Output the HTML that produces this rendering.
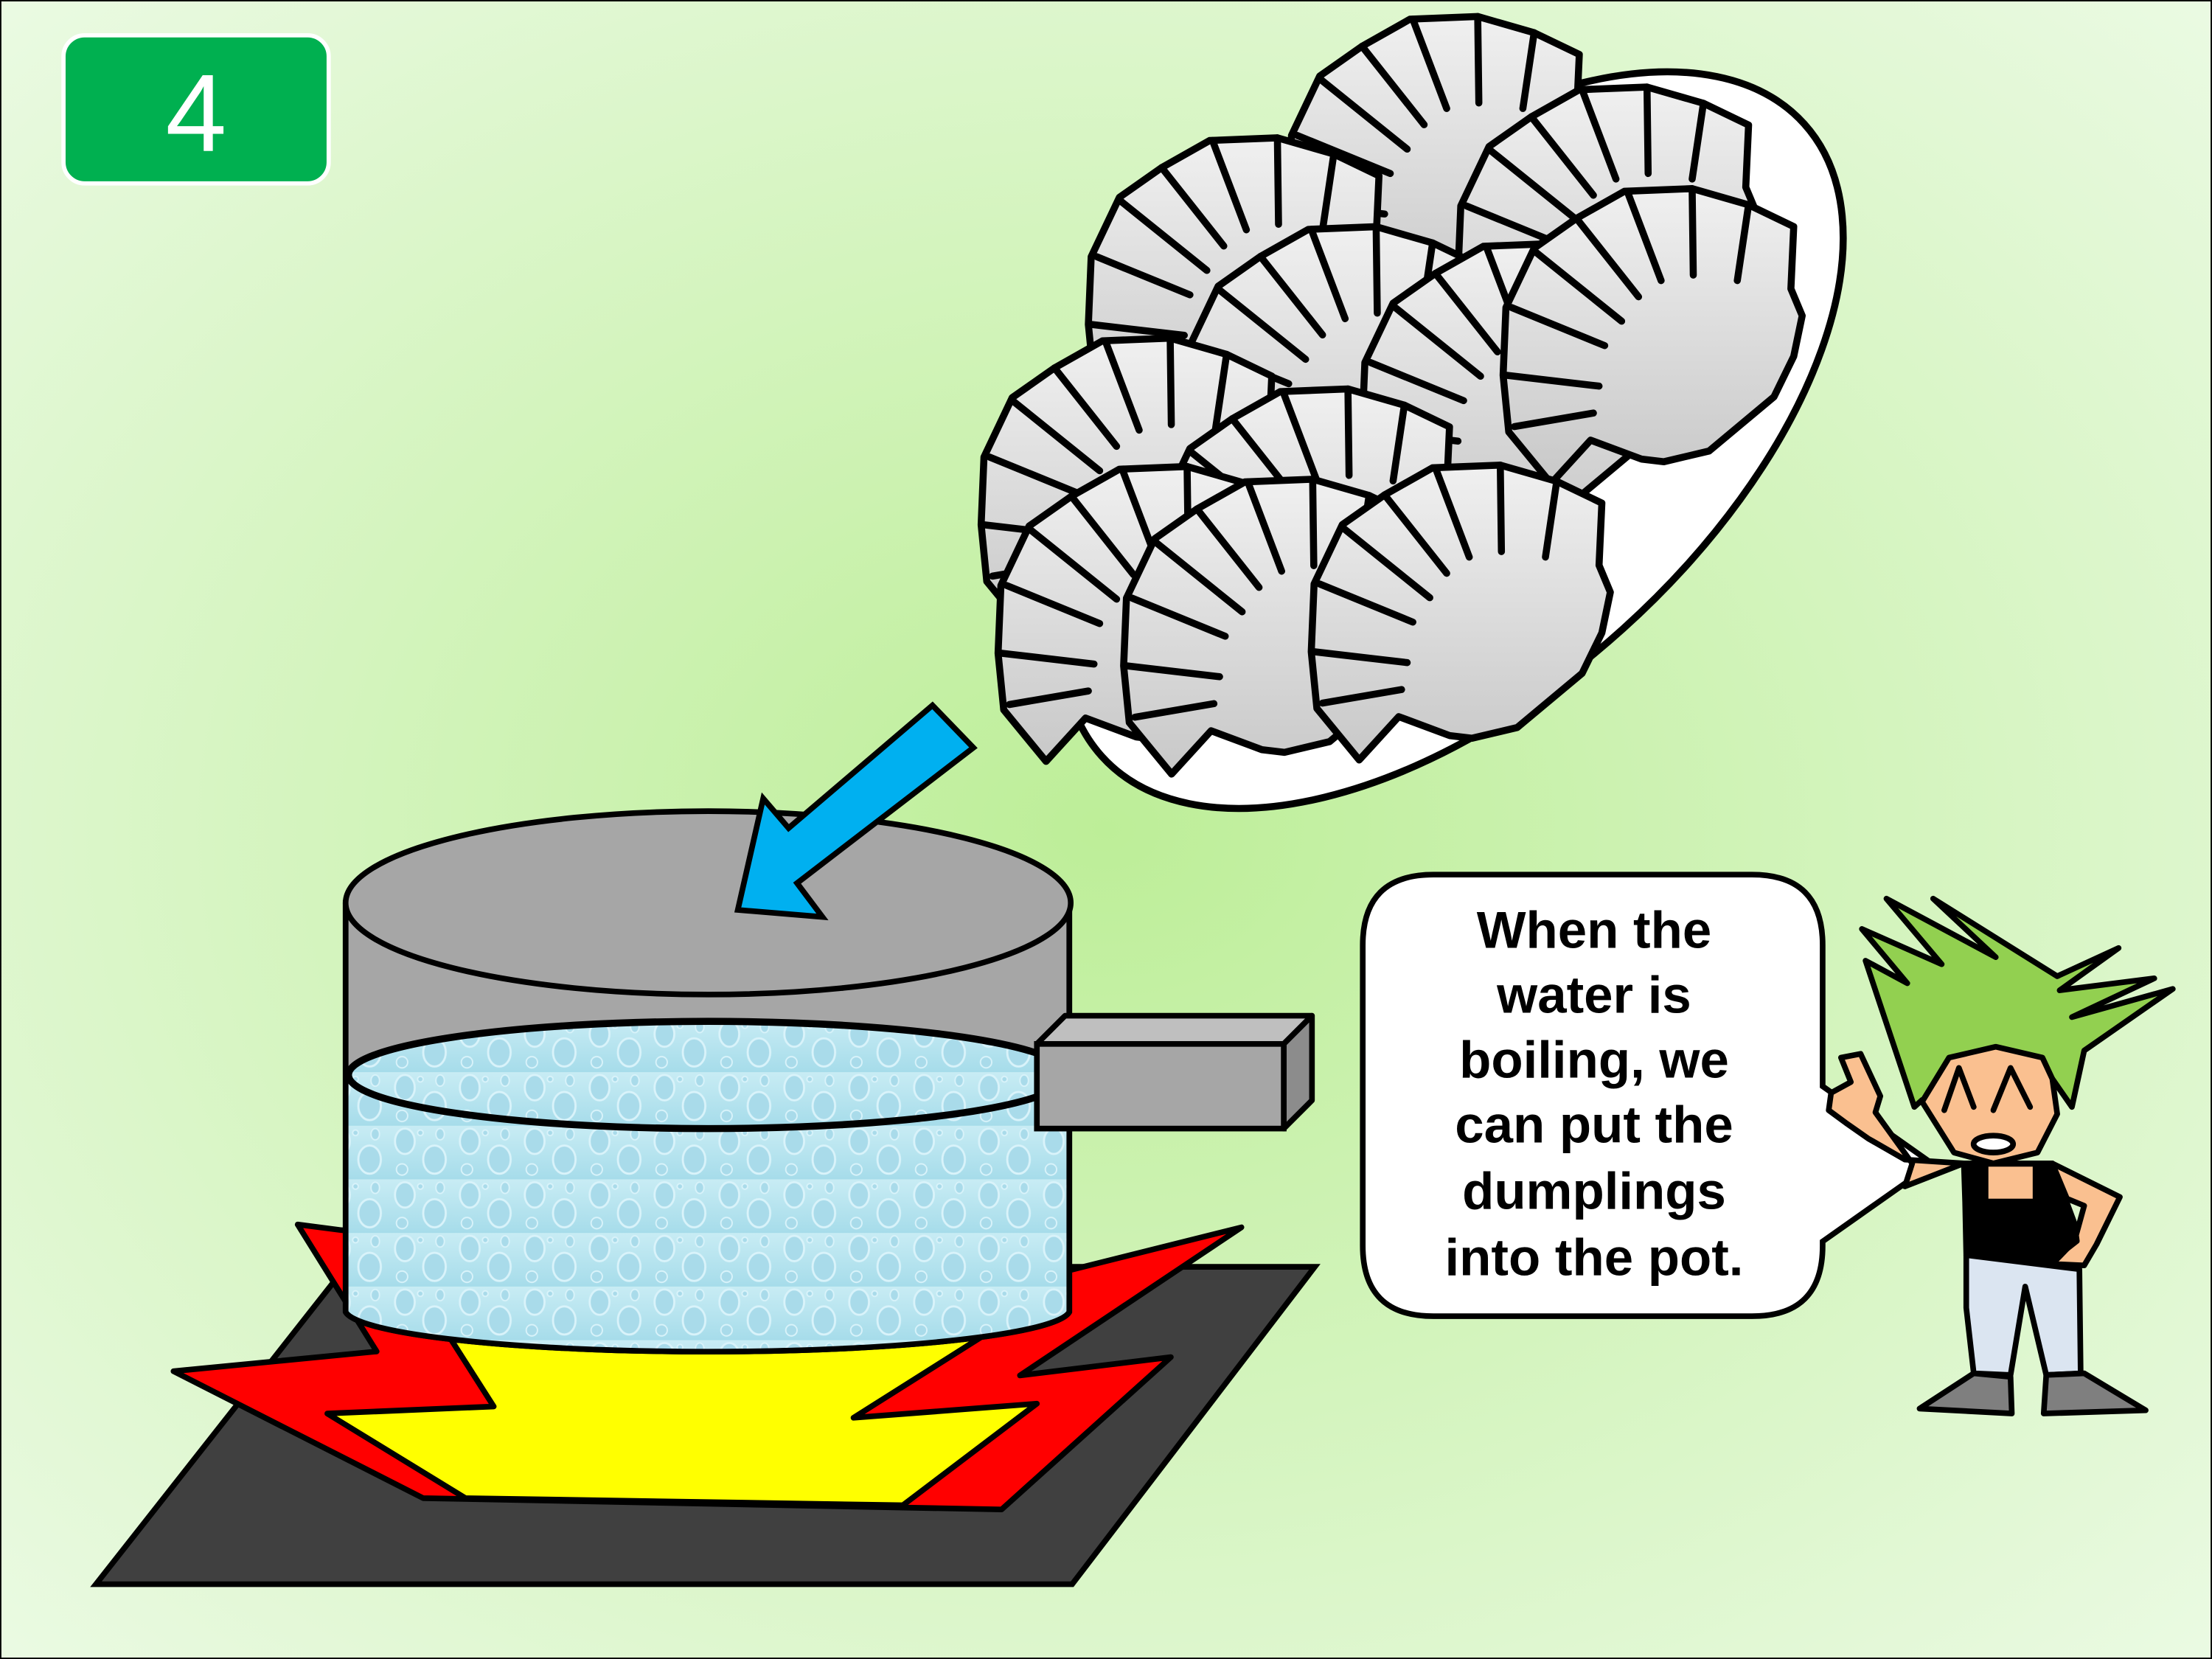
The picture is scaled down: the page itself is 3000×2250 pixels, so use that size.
<!DOCTYPE html>
<html><head><meta charset="utf-8"><style>
html,body{margin:0;padding:0;width:3000px;height:2250px;overflow:hidden}
svg{display:block}
</style></head><body>
<svg width="3000" height="2250" viewBox="0 0 1568 1176" xmlns="http://www.w3.org/2000/svg">
<defs>
<radialGradient id="bg" cx="0.5" cy="0.5" r="0.7">
<stop offset="0" stop-color="#bdee98"/><stop offset="1" stop-color="#eafae2"/>
</radialGradient>
<linearGradient id="dg" x1="0" y1="0" x2="0" y2="1">
<stop offset="0" stop-color="#f0f0f0"/><stop offset="1" stop-color="#c8c8c8"/>
</linearGradient>
<linearGradient id="wg" x1="0" y1="0" x2="0" y2="1">
<stop offset="0" stop-color="#c8ecf4"/><stop offset="1" stop-color="#a6dcea"/>
</linearGradient>
<pattern id="bub" width="46" height="38" patternUnits="userSpaceOnUse">
<rect width="46" height="38" fill="url(#wg)"/>
<ellipse cx="11" cy="11" rx="7" ry="9" fill="#a9dbea" stroke="#d9f3fa" stroke-width="1.5"/>
<ellipse cx="32" cy="24" rx="8" ry="10" fill="#a9dbea" stroke="#d9f3fa" stroke-width="1.5"/>
<ellipse cx="9" cy="31" rx="4" ry="4" fill="#a9dbea" stroke="#d9f3fa" stroke-width="1"/>
<ellipse cx="36" cy="6" rx="3" ry="4" fill="#a9dbea" stroke="#d9f3fa" stroke-width="1"/>
<ellipse cx="22" cy="5" rx="2" ry="2" fill="#a9dbea" stroke="#d9f3fa" stroke-width="1"/>
</pattern>
<g id="d">
<path d="M-66.5,98.7 L-96.5,62.2 L-100.5,22 L-98.5,-26 L-78.5,-68.1 L-48.5,-89.2 L-14.5,-108.4 L33.5,-110.3 L73.5,-98.8 L105.5,-83.4 L103.5,-39.3 L111.5,-20.2 L105.5,8.6 L91.5,37.3 L45.5,75.7 L13.5,83.3 L-2.5,81.4 L-38.5,68 Z" fill="url(#dg)" stroke="#000" stroke-width="5" stroke-linejoin="round"/>
<g stroke="#000" stroke-width="5" stroke-linecap="round">
<line x1="-92.5" y1="58.4" x2="-36.5" y2="48.8"/>
<line x1="-98.5" y1="22" x2="-32.5" y2="29.7"/>
<line x1="-94.5" y1="-26" x2="-28.5" y2="1"/>
<line x1="-78.5" y1="-66.2" x2="-16.5" y2="-16.3"/>
<line x1="-48.5" y1="-89.2" x2="-4.5" y2="-33.6"/>
<line x1="-12.5" y1="-108.4" x2="11.5" y2="-45.1"/>
<line x1="33.5" y1="-110.3" x2="34.3" y2="-49"/>
<line x1="73.5" y1="-98.8" x2="65.5" y2="-45.1"/>
</g>
</g>
</defs>
<rect x="0" y="0" width="1568" height="1176" fill="url(#bg)" stroke="#000" stroke-width="2"/>
<rect x="45" y="25" width="188" height="105" rx="15" fill="#00b050" stroke="#fff" stroke-width="3"/>
<text x="139" y="107" font-family="Liberation Sans, sans-serif" font-size="78" fill="#fff" text-anchor="middle">4</text>
<ellipse cx="1030" cy="312" rx="335" ry="180" transform="rotate(-42 1030 312)" fill="#fff" stroke="#000" stroke-width="5"/>
<use href="#d" x="1014" y="122"/>
<use href="#d" x="1134" y="172"/>
<use href="#d" x="872" y="208"/>
<use href="#d" x="942" y="271"/>
<use href="#d" x="1066" y="283"/>
<use href="#d" x="1166" y="244"/>
<use href="#d" x="796" y="350"/>
<use href="#d" x="922" y="386"/>
<use href="#d" x="808" y="441"/>
<use href="#d" x="897" y="450"/>
<use href="#d" x="1030" y="440"/>
<polygon points="68,1123 245,898 932,898 760,1123" fill="#404040" stroke="#000" stroke-width="4"/>
<polygon points="211,868 267,958 123,972 300,1062 710,1070 830,962 723,975 880,870 700,915 242,872" fill="#ff0000" stroke="#000" stroke-width="4" stroke-linejoin="round"/>
<polygon points="320,950 350,997 232,1002 330,1062 640,1067 735,995 605,1005 700,945" fill="#ffff00" stroke="#000" stroke-width="4" stroke-linejoin="round"/>
<path d="M245,640 L245,930 A257,30 0 0 0 758,930 L758,640 Z" fill="#a6a6a6" stroke="#000" stroke-width="4"/>
<path d="M247,762 L247,930 A255,28 0 0 0 756,930 L756,762 Z" fill="url(#bub)"/>
<path d="M245,640 L245,930 A257,30 0 0 0 758,930 L758,640" fill="none" stroke="#000" stroke-width="4"/>
<ellipse cx="502" cy="762" rx="255" ry="38" fill="url(#bub)" stroke="#000" stroke-width="5"/>
<ellipse cx="502" cy="640" rx="257" ry="65" fill="#a6a6a6" stroke="#000" stroke-width="4"/>
<polygon points="735,740 755,720 930,720 910,740" fill="#bfbfbf" stroke="#000" stroke-width="4" stroke-linejoin="round"/>
<polygon points="910,740 930,720 930,780 910,800" fill="#8c8c8c" stroke="#000" stroke-width="4" stroke-linejoin="round"/>
<rect x="735" y="740" width="175" height="60" fill="#a6a6a6" stroke="#000" stroke-width="4"/>
<polygon points="690,530 661,500 559,587 541,566 523,645 583,650 565,626" fill="#00b0f0" stroke="#000" stroke-width="4"/>
<path d="M1016,620 L1242,620 Q1292,620 1292,670 L1292,770 L1370,825 L1292,880 L1292,883 Q1292,933 1242,933 L1016,933 Q966,933 966,883 L966,670 Q966,620 1016,620 Z" fill="#fff" stroke="#000" stroke-width="4"/>
<g font-family="Liberation Sans, sans-serif" font-weight="bold" font-size="37" text-anchor="middle" fill="#000">
<text x="1130" y="672">When the</text>
<text x="1130" y="718">water is</text>
<text x="1130" y="764">boiling, we</text>
<text x="1130" y="810">can put the</text>
<text x="1130" y="857">dumplings</text>
<text x="1130" y="904">into the pot.</text>
</g>
<g stroke="#000" stroke-width="4" stroke-linejoin="round" stroke-linecap="round">
<polygon points="1357,784.7 1322.4,681 1352,697 1319.8,658.5 1376.4,683.5 1337.2,637 1414.7,678.5 1370.3,637 1458.3,692 1501.8,672 1460,702 1527.1,693.5 1468.7,721 1540.2,701 1477.4,744.7 1468.7,784.7 1454.8,764.7 1362.5,779.7" fill="#92d050"/>
<polygon points="1362.5,781 1381.6,749.7 1414.7,742 1447.8,749.7 1454.8,764.7 1458.3,789.7 1444.3,817 1413,824.7 1385.1,817" fill="#fac090"/>
<polyline points="1378.2,787 1388.6,757 1399.1,784.7" fill="none"/>
<polyline points="1413,787 1425.2,757 1439.1,784.7" fill="none"/>
<ellipse cx="1413" cy="811" rx="14" ry="6" fill="#fff"/>
<polygon points="1392.1,824.7 1350.3,841 1355.5,824.7 1329.4,788.5 1332.9,777 1318.9,747 1305,749.7 1312,767 1298,774.7 1296.3,787 1308.5,796 1324.2,807 1350.3,822" fill="#fac090"/>
<polygon points="1454.8,824.7 1502.7,848.5 1486.2,882 1477.4,897 1454.8,896 1470.5,879.7 1477.4,854.7 1465.2,849.7" fill="#fac090"/>
<polygon points="1392.1,824.7 1454.8,824.7 1470.5,867 1472.2,879.7 1456.5,892 1454.8,897 1393.8,889.7 1393,852" fill="#000"/>
<rect x="1409.5" y="827" width="31.4" height="22.7" fill="#fac090" stroke="none"/>
<polygon points="1393.8,889.7 1474,899.7 1474.9,973.5 1450.5,974.7 1435.6,912 1425.2,974.7 1399.1,973.5 1393.8,927" fill="#dbe5f1"/>
<polygon points="1399.1,973.5 1425.2,976 1426.1,1002 1360.7,998.5" fill="#7f7f7f"/>
<polygon points="1450.5,974.7 1477.4,973.5 1521,999.7 1448.7,1002" fill="#7f7f7f"/>
</g>
</svg>
</body></html>
